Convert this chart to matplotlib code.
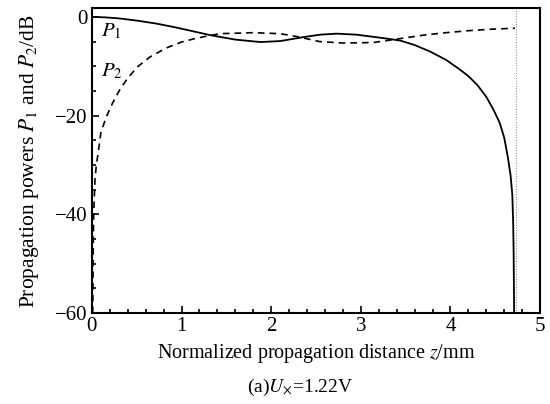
import numpy as np
import matplotlib
matplotlib.use("Agg")
import matplotlib.pyplot as plt
from matplotlib.ticker import MultipleLocator

plt.rcParams['font.family'] = ['Liberation Serif', 'DejaVu Serif']
plt.rcParams['mathtext.fontset'] = 'stix'

# P1 (solid)
z1 = [0, 0.15, 0.3, 0.5, 0.7, 0.9, 1.1, 1.32, 1.6, 1.88, 2.1, 2.36, 2.55,
      2.73, 2.95, 3.25, 3.44, 3.6, 3.77, 3.95, 4.1, 4.2, 4.3, 4.4, 4.48, 4.55,
      4.6, 4.64, 4.67, 4.69, 4.70, 4.705, 4.71]
p1 = [0, -0.1, -0.3, -0.75, -1.3, -2.0, -2.8, -3.7, -4.6, -5.1, -4.9, -4.1,
      -3.6, -3.4, -3.6, -4.3, -4.8, -5.7, -7.0, -8.7, -10.6, -12.0, -13.8,
      -16.2, -18.8, -21.5, -24.5, -28.4, -32, -36, -42, -48, -60]

# P2 (dashed)
z2 = [0.01, 0.015, 0.02, 0.035, 0.05, 0.07, 0.10, 0.16, 0.23, 0.31, 0.40,
      0.51, 0.65, 0.83, 1.0, 1.17, 1.43, 1.8, 2.1, 2.29, 2.54, 2.8, 3.14, 3.4,
      3.7, 3.95, 4.2, 4.45, 4.72]
p2 = [-60, -47, -40, -33, -30, -27.6, -23.5, -20.3, -17.5, -14.8, -12.4,
      -10.1, -8.1, -6.3, -5.1, -4.3, -3.4, -3.2, -3.4, -4.0, -5.0, -5.3, -5.2,
      -4.5, -3.7, -3.2, -2.8, -2.5, -2.3]

z_end = 4.73

fig = plt.figure(figsize=(5.5, 4.04), dpi=100)
ax = fig.add_axes([0.167, 0.225, 0.815, 0.754])

ax.plot(z1, p1, color='black', lw=1.3)
ax.plot(z2, p2, color='black', lw=1.2, linestyle=(0, (4, 3)))
ax.axvline(z_end, color='gray', lw=0.7, linestyle=':')

ax.text(0.1, -3.0, r'$P_1$', fontsize=15, va='center')
ax.text(0.1, -11.0, r'$P_2$', fontsize=15, va='center')

ax.set_xlim(0, 5)
ax.set_ylim(-60, 1.7)
ax.xaxis.set_major_locator(MultipleLocator(1))
ax.xaxis.set_minor_locator(MultipleLocator(0.2))
ax.yaxis.set_major_locator(MultipleLocator(20))
ax.yaxis.set_minor_locator(MultipleLocator(5))
ax.tick_params(which='both', direction='in', labelsize=15, width=1.2)
ax.tick_params(which='major', length=5, pad=3)
ax.tick_params(which='minor', length=3)
for s in ax.spines.values():
    s.set_linewidth(1.5)

ax.set_xlabel(r'Normalized propagation distance $z$/mm', fontsize=14.5, labelpad=4)
ax.set_ylabel(r'Propagation powers $P_1$ and $P_2$/dB', fontsize=15.5, labelpad=10)
fig.text(0.545, 0.03, r'(a)$U_{\times}$=1.22V', fontsize=14, ha='center')

fig.savefig('out.png', dpi=100)
